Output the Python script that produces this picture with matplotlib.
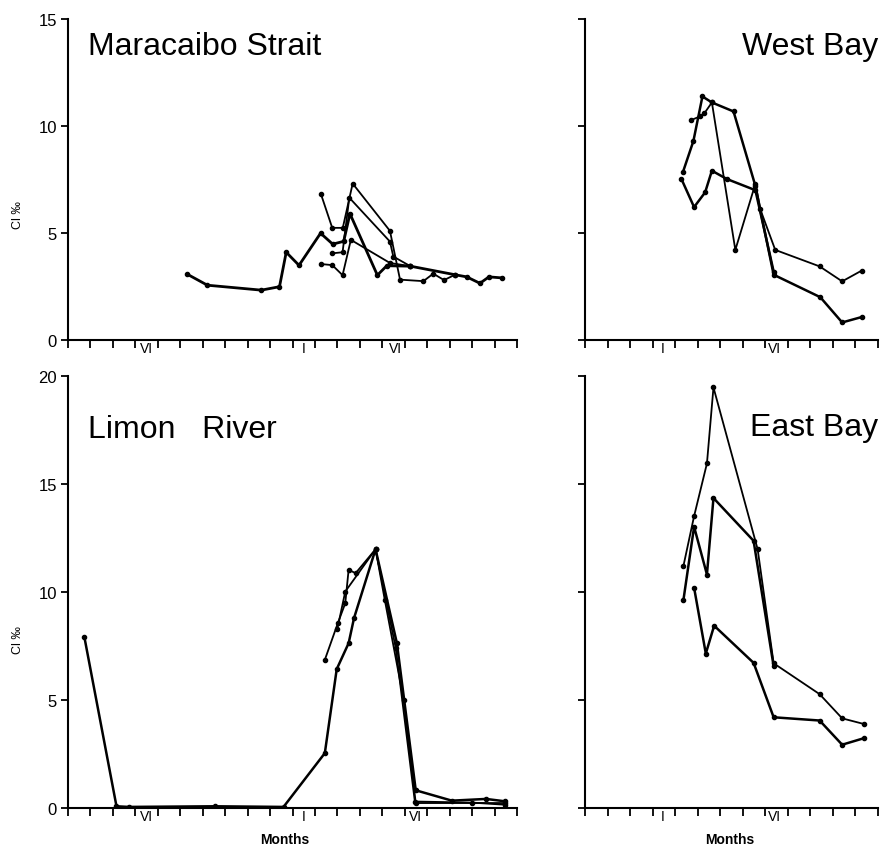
import matplotlib
matplotlib.use("Agg")
import matplotlib.pyplot as plt

plt.rcParams['font.family'] = ['Liberation Sans', 'DejaVu Sans']

# x = months counted from 1 January (0 = start of Jan), y = Cl per mille

# Maracaibo Strait
strait_main_x = [-4.68, -3.79, -1.39, -0.58, -0.28, 0.29, 1.25, 1.79, 2.28, 2.56, 3.78, 4.2, 5.25, 7.24, 7.76, 8.35, 8.75, 9.35]
strait_main_y = [3.07, 2.56, 2.33, 2.49, 4.10, 3.49, 4.99, 4.48, 4.61, 5.9, 3.03, 3.47, 3.45, 3.05, 2.95, 2.65, 2.95, 2.9]
strait_b_x = [1.26, 1.77, 2.24, 2.68, 4.34, 4.79, 5.83, 6.27, 6.75, 7.24]
strait_b_y = [6.84, 5.24, 5.24, 7.31, 5.1, 2.82, 2.75, 3.1, 2.8, 3.05]
strait_c_x = [1.77, 2.23, 2.53, 4.34, 4.49, 5.25]
strait_c_y = [4.05, 4.1, 6.65, 4.6, 3.9, 3.45]
strait_d_x = [1.26, 1.77, 2.23, 2.6, 4.34, 5.25]
strait_d_y = [3.55, 3.5, 3.03, 4.68, 3.6, 3.45]

# West Bay
west_a_x = [1.28, 1.84, 2.33, 2.63, 3.3, 4.56, 5.37]
west_a_y = [7.52, 6.21, 6.9, 7.91, 7.52, 7.0, 3.2]
west_b_x = [1.34, 1.81, 2.21, 2.63, 3.59, 4.56, 5.37, 7.44, 8.41, 9.3]
west_b_y = [7.83, 9.3, 11.38, 11.1, 10.68, 7.2, 3.05, 2.0, 0.82, 1.08]
west_c_x = [1.7, 2.1, 2.3, 2.63, 3.67, 4.56, 4.78, 5.44, 7.41, 8.41, 9.27]
west_c_y = [10.27, 10.45, 10.6, 11.1, 4.21, 7.3, 6.1, 4.21, 3.44, 2.74, 3.24]

# Limon River
limon_a_x = [-9.27, -7.84, -7.3, -3.46, -0.4, 1.44, 1.97, 2.5, 2.74, 3.7, 4.65, 5.49, 7.1, 8.62, 9.47]
limon_a_y = [7.91, 0.08, 0.05, 0.08, 0.05, 2.54, 6.43, 7.63, 8.79, 11.98, 7.63, 0.82, 0.34, 0.42, 0.31]
limon_b_x = [1.44, 2.02, 2.35, 2.5, 2.81, 3.7, 4.11, 4.95, 5.49, 9.47]
limon_b_y = [6.86, 8.56, 9.48, 11.03, 10.87, 11.98, 9.64, 5.01, 0.23, 0.23]
limon_c_x = [2.0, 2.35, 3.7, 4.6, 5.45, 8.0, 9.47]
limon_c_y = [8.3, 10.02, 11.98, 7.4, 0.3, 0.25, 0.15]

# East Bay
east_a_x = [1.37, 1.84, 2.41, 2.7, 4.66, 5.37, 7.41, 8.41, 9.37]
east_a_y = [11.22, 13.51, 15.95, 19.47, 11.98, 6.7, 5.27, 4.15, 3.89]
east_b_x = [1.37, 1.84, 2.41, 2.7, 4.48, 5.37]
east_b_y = [9.65, 13.02, 10.81, 14.35, 12.37, 6.56]
east_c_x = [1.84, 2.36, 2.73, 4.48, 5.37, 7.41, 8.41, 9.4]
east_c_y = [10.2, 7.15, 8.44, 6.72, 4.2, 4.05, 2.93, 3.24]

W, H = 881, 854
fig = plt.figure(figsize=(W / 100, H / 100), dpi=100)

left_x0, left_w = 68 / W, 449 / W
right_x0, right_w = 585 / W, 293 / W
top_y0, top_h = (H - 341) / H, 321 / H
bot_y0, bot_h = (H - 809) / H, 432 / H

ax_ms = fig.add_axes([left_x0, top_y0, left_w, top_h])
ax_wb = fig.add_axes([right_x0, top_y0, right_w, top_h])
ax_lr = fig.add_axes([left_x0, bot_y0, left_w, bot_h])
ax_eb = fig.add_axes([right_x0, bot_y0, right_w, bot_h])


def setup(ax, xlim, ymax, month_pos, month_lab, ylabels):
    ax.set_xlim(*xlim)
    ax.set_ylim(0, ymax)
    for s in ['top', 'right']:
        ax.spines[s].set_visible(False)
    for s in ['left', 'bottom']:
        ax.spines[s].set_linewidth(1.5)
    ax.set_xticks(range(xlim[0], xlim[1] + 1))
    ax.tick_params(axis='x', which='major', direction='out', length=6, width=1.3, labelbottom=False)
    ax.set_xticks(month_pos, minor=True)
    ax.set_xticklabels(month_lab, minor=True)
    ax.tick_params(axis='x', which='minor', length=0, pad=1, labelsize=10)
    ax.set_yticks(range(0, ymax + 1, 5))
    ax.tick_params(axis='y', direction='out', length=5, width=1.3, labelsize=12, pad=3,
                   labelleft=ylabels)


def draw(ax, xs, ys, lw=1.3):
    ax.plot(xs, ys, color='black', lw=lw, marker='o', ms=3, solid_joinstyle='round')


setup(ax_ms, (-10, 10), 15, [-6.5, 0.5, 4.6], ['VI', 'I', 'VI'], True)
setup(ax_wb, (-3, 10), 15, [0.45, 5.4], ['I', 'VI'], False)
setup(ax_lr, (-10, 10), 20, [-6.5, 0.5, 5.5], ['VI', 'I', 'VI'], True)
setup(ax_eb, (-3, 10), 20, [0.45, 5.4], ['I', 'VI'], False)

draw(ax_ms, strait_main_x, strait_main_y, lw=2)
draw(ax_ms, strait_b_x, strait_b_y)
draw(ax_ms, strait_c_x, strait_c_y)
draw(ax_ms, strait_d_x, strait_d_y)

draw(ax_wb, west_a_x, west_a_y, lw=1.8)
draw(ax_wb, west_b_x, west_b_y, lw=1.8)
draw(ax_wb, west_c_x, west_c_y)

draw(ax_lr, limon_a_x, limon_a_y, lw=1.8)
draw(ax_lr, limon_b_x, limon_b_y)
draw(ax_lr, limon_c_x, limon_c_y)

draw(ax_eb, east_a_x, east_a_y)
draw(ax_eb, east_b_x, east_b_y, lw=1.8)
draw(ax_eb, east_c_x, east_c_y, lw=1.8)

ax_ms.text(0.045, 0.915, 'Maracaibo Strait', transform=ax_ms.transAxes, fontsize=23, va='center')
ax_wb.text(1.0, 0.915, 'West Bay', transform=ax_wb.transAxes, fontsize=23, va='center', ha='right')
ax_lr.text(0.045, 0.877, 'Limon   River', transform=ax_lr.transAxes, fontsize=23, va='center')
ax_eb.text(1.0, 0.882, 'East Bay', transform=ax_eb.transAxes, fontsize=23, va='center', ha='right')

fig.text(18 / W, (H - 215) / H, 'Cl ‰', rotation=90, ha='center', va='center', fontsize=9)
fig.text(18 / W, (H - 640) / H, 'Cl ‰', rotation=90, ha='center', va='center', fontsize=9)
fig.text(285 / W, (H - 840) / H, 'Months', ha='center', va='center', fontsize=10, fontweight='bold')
fig.text(730 / W, (H - 840) / H, 'Months', ha='center', va='center', fontsize=10, fontweight='bold')

fig.savefig('out.png', dpi=100, facecolor='white')
